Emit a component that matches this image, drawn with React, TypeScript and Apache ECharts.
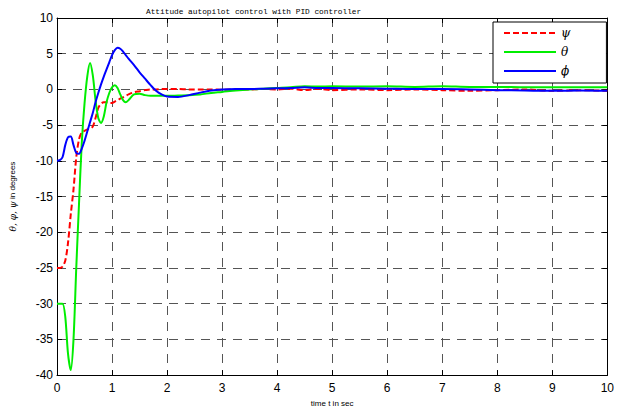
import React, { useEffect, useRef } from "react";
import * as echarts from "echarts";

const titleText = "Attitude autopilot control with PID controller";
const xName = "time t in sec";
const yGreek = "θ, φ, ψ";
const yRest = " in degrees";
const seriesNames = ["ψ", "θ", "ϕ"];

const time = [
  0, 0.05, 0.1, 0.15, 0.2, 0.25, 0.3, 0.35, 0.4, 0.45, 0.5, 0.55, 0.6, 0.65, 0.7, 0.75, 0.8, 0.85, 0.9, 0.95,
  1.0, 1.05, 1.1, 1.15, 1.2, 1.25, 1.3, 1.4, 1.5, 1.6, 1.7, 1.8, 1.9, 2.0, 2.2, 2.4, 2.6, 2.8, 3.0, 3.25, 3.5,
  3.75, 4.0, 4.25, 4.5, 4.75, 5.0, 5.5, 6.0, 6.5, 7.0, 7.5, 8.0, 8.5, 9.0, 9.5, 10.0,
];

const psi = [
  -25, -25, -24.8, -24, -21.5, -17.5, -14, -9.5, -7, -6, -5.8, -5.6, -5.5, -5.2, -4, -2.6, -2.0, -1.8, -1.8, -1.9,
  -1.9, -1.7, -1.5, -1.3, -1.1, -0.9, -0.7, -0.4, -0.25, -0.1, 0, 0, 0.05, 0.05, 0.05, 0, 0, 0, -0.05, 0, 0,
  0.05, 0, 0.1, -0.1, 0.1, -0.1, 0, -0.1, 0, -0.1, -0.2, -0.1, 0, -0.2, -0.1, -0.2,
];

const theta = [
  -30, -30, -30, -31.8, -37, -39.3, -35, -25, -16, -7.5, -2, 1.8, 3.7, 2.0, -1.5, -4.0, -4.7, -3.8, -1.8, -0.5,
  0.3, 0.6, 0.2, -0.7, -1.5, -1.8, -1.5, -0.7, -0.6, -0.8, -0.9, -0.9, -0.9, -0.9, -0.85, -0.8, -0.7, -0.5, -0.35, -0.15, 0.0,
  0.1, 0.2, 0.3, 0.45, 0.4, 0.45, 0.4, 0.45, 0.35, 0.45, 0.35, 0.35, 0.3, 0.3, 0.3, 0.3,
];

const phi = [
  -10, -9.9, -9.5, -7.8, -6.7, -6.6, -7.8, -8.9, -9.0, -8.3, -7.2, -5.9, -4.6, -3.3, -1.8, -0.5, 0.7, 1.8, 2.8, 3.8,
  4.8, 5.5, 5.85, 5.7, 5.3, 4.8, 4.3, 3.4, 2.4, 1.5, 0.6, -0.2, -0.7, -1.0, -1.05, -0.8, -0.45, -0.15, 0, 0.05, 0.05,
  0.1, 0.15, 0.2, 0.3, 0.2, 0.2, 0.15, 0.1, 0.05, 0.05, 0, -0.1, -0.15, -0.2, -0.15, -0.2,
];

const xTicks = { min: 0, max: 10, interval: 1 };
const yTicks = { min: -40, max: 10, interval: 5 };

const pair = (vals: number[]) => time.map((t, i) => [t, vals[i]]);

export default function App() {
  const ref = useRef<HTMLDivElement>(null);
  useEffect(() => {
    if (!ref.current) return;
    const chart = echarts.init(ref.current, undefined, { renderer: "svg" });
    const gridLine = { show: true, lineStyle: { color: "#555", type: [9, 7], width: 1 } };
    const labelStyle = { color: "#000", fontSize: 12, fontFamily: "Liberation Sans, Arial, sans-serif" };
    const sans = "Liberation Sans, Arial, sans-serif";
    chart.setOption({
      animation: false,
      backgroundColor: "#fff",
      title: {
        text: titleText,
        left: 141,
        top: 3,
        textStyle: { fontSize: 7.8, fontWeight: "normal", fontFamily: "Liberation Mono, DejaVu Sans Mono, monospace", color: "#000" },
      },
      legend: {
        orient: "vertical",
        left: 493,
        top: 22,
        padding: [5, 36, 6, 10],
        itemWidth: 52,
        itemHeight: 12,
        itemGap: 7,
        borderColor: "#000",
        borderWidth: 1,
        backgroundColor: "#fff",
        itemStyle: { opacity: 0, borderWidth: 0 },
        textStyle: { fontSize: 12, fontStyle: "italic", fontFamily: "DejaVu Serif, serif", color: "#000" },
        data: seriesNames,
      },
      grid: { left: 57, right: 7, top: 18, bottom: 35 },
      xAxis: [
        {
          type: "value",
          ...xTicks,
          name: xName,
          nameLocation: "middle",
          nameGap: 22,
          nameTextStyle: { fontSize: 8, color: "#000", fontFamily: sans },
          axisLine: { show: true, onZero: false, lineStyle: { color: "#000" } },
          axisTick: { show: true, inside: true, length: 5, lineStyle: { color: "#000" } },
          axisLabel: { ...labelStyle, margin: 7 },
          splitLine: gridLine,
        },
        {
          type: "value",
          ...xTicks,
          position: "top",
          axisLine: { show: true, onZero: false, lineStyle: { color: "#000" } },
          axisTick: { show: true, inside: true, length: 5, lineStyle: { color: "#000" } },
          axisLabel: { show: false },
          splitLine: { show: false },
        },
      ],
      yAxis: [
        {
          type: "value",
          ...yTicks,
          name: "{g|" + yGreek + "}{r|" + yRest + "}",
          nameLocation: "middle",
          nameGap: 40,
          nameRotate: 90,
          nameTextStyle: {
            color: "#000",
            rich: {
              g: { fontSize: 9, fontStyle: "italic", fontFamily: "DejaVu Serif, serif", color: "#000" },
              r: { fontSize: 8, fontFamily: sans, color: "#000" },
            },
          },
          axisLine: { show: true, onZero: false, lineStyle: { color: "#000" } },
          axisTick: { show: true, inside: true, length: 5, lineStyle: { color: "#000" } },
          axisLabel: { ...labelStyle, margin: 4 },
          splitLine: gridLine,
        },
        {
          type: "value",
          ...yTicks,
          position: "right",
          axisLine: { show: true, onZero: false, lineStyle: { color: "#000" } },
          axisTick: { show: true, inside: true, length: 5, lineStyle: { color: "#000" } },
          axisLabel: { show: false },
          splitLine: { show: false },
        },
      ],
      series: [
        {
          name: seriesNames[0],
          type: "line",
          data: pair(psi),
          symbol: "none",
          smooth: 0.3,
          lineStyle: { color: "#ff0000", width: 2, type: [6, 3] },
          itemStyle: { color: "#ff0000" },
        },
        {
          name: seriesNames[1],
          type: "line",
          data: pair(theta),
          symbol: "none",
          smooth: 0.3,
          lineStyle: { color: "#00ee00", width: 2 },
          itemStyle: { color: "#00ee00" },
        },
        {
          name: seriesNames[2],
          type: "line",
          data: pair(phi),
          symbol: "none",
          smooth: 0.3,
          lineStyle: { color: "#0000ff", width: 2 },
          itemStyle: { color: "#0000ff" },
        },
      ],
    });
    return () => chart.dispose();
  }, []);
  return <div ref={ref} style={{ position: "absolute", left: 0, top: 0, width: 617, height: 412 }} />;
}
